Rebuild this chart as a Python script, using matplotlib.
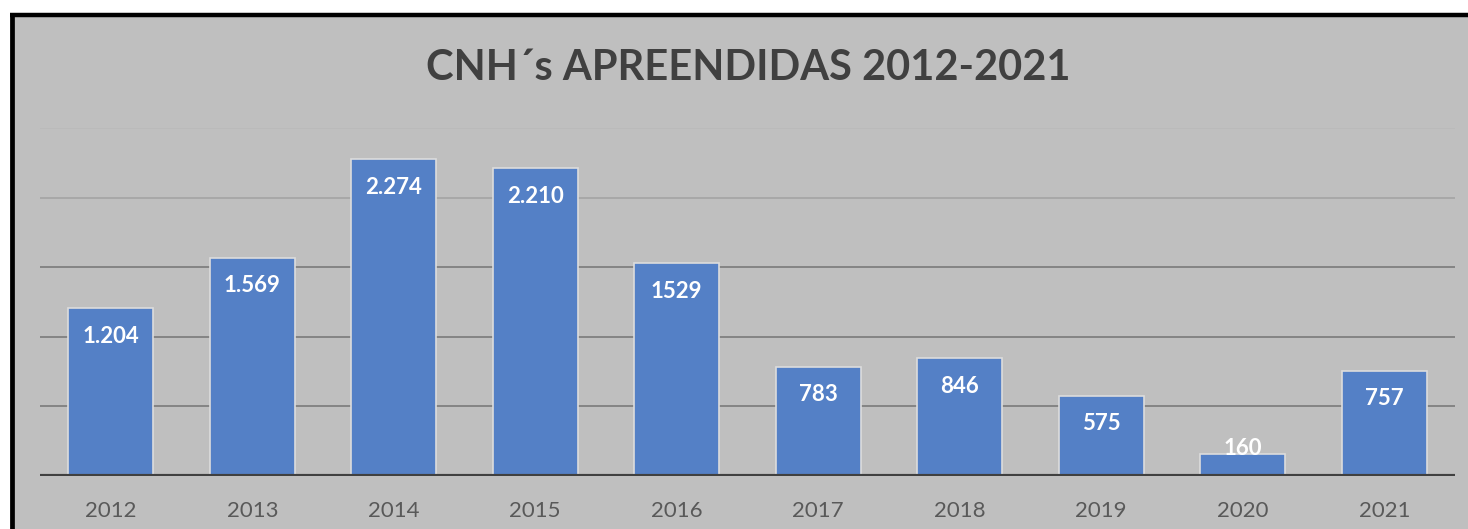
import matplotlib
matplotlib.use("Agg")
import matplotlib.pyplot as plt
from matplotlib.lines import Line2D

plt.rcParams["font.family"] = ["Lato", "DejaVu Sans"]

# data
anos = ["2012", "2013", "2014", "2015", "2016", "2017", "2018", "2019", "2020", "2021"]
valores = [1204, 1569, 2274, 2210, 1529, 783, 846, 575, 160, 757]
rotulos = ["1.204", "1.569", "2.274", "2.210", "1529", "783", "846", "575", "160", "757"]
grade = [500, 1000, 1500, 2000, 2500]

fundo = "#bfbfbf"
azul = "#5480c6"

W, H = 1468, 529
fig = plt.figure(figsize=(W / 100, H / 100), dpi=100)
fig.patch.set_facecolor("white")

# gray chart panel, thick black border on top and left
bg = fig.add_axes([10 / W, 0, 1 - 10 / W, 1 - 13 / H], zorder=0)
bg.set_facecolor(fundo)
bg.set_xticks([])
bg.set_yticks([])
for s in bg.spines.values():
    s.set_visible(False)
fig.lines.append(Line2D([10 / W, 1], [1 - 15 / H, 1 - 15 / H], transform=fig.transFigure,
                        color="black", lw=3.2, solid_capstyle="butt", zorder=5))
fig.lines.append(Line2D([11.8 / W, 11.8 / W], [0, 1 - 13 / H], transform=fig.transFigure,
                        color="black", lw=3.4, solid_capstyle="butt", zorder=5))

ax = fig.add_axes([40 / W, 1 - 476 / H, 1415 / W, 348 / H], zorder=1)
ax.set_facecolor("none")
x = range(len(anos))
ax.bar(x, valores, width=0.6, color=azul, edgecolor="#dcdcdc", linewidth=1.2, zorder=3)

cores_grade = {500: "#7f7f7f", 1000: "#7f7f7f", 1500: "#7f7f7f", 2000: "#a6a6a6", 2500: "#bababa"}
for g in grade:
    ax.axhline(g, color=cores_grade[g], lw=1.3, zorder=1)
ax.axhline(0, color="#404040", lw=3, zorder=4)

for i, (v, r) in enumerate(zip(valores, rotulos)):
    ax.text(i, max(v - 200, 200), r, ha="center", va="center", color="white",
            fontsize=16, fontweight="bold", zorder=5)

ax.set_xlim(-0.5, len(anos) - 0.5)
ax.set_ylim(0, 2500)
ax.set_xticks(list(x))
ax.set_xticklabels(anos, fontsize=16, color="#595959")
ax.tick_params(axis="x", length=0, pad=18)
ax.set_yticks([])
for s in ax.spines.values():
    s.set_visible(False)

fig.text(748 / W, 1 - 68 / H, "CNH´s APREENDIDAS 2012-2021", ha="center", va="center",
         fontsize=30, fontweight="bold", color="#404040")

fig.savefig("out.png", dpi=100, facecolor=fig.get_facecolor())
